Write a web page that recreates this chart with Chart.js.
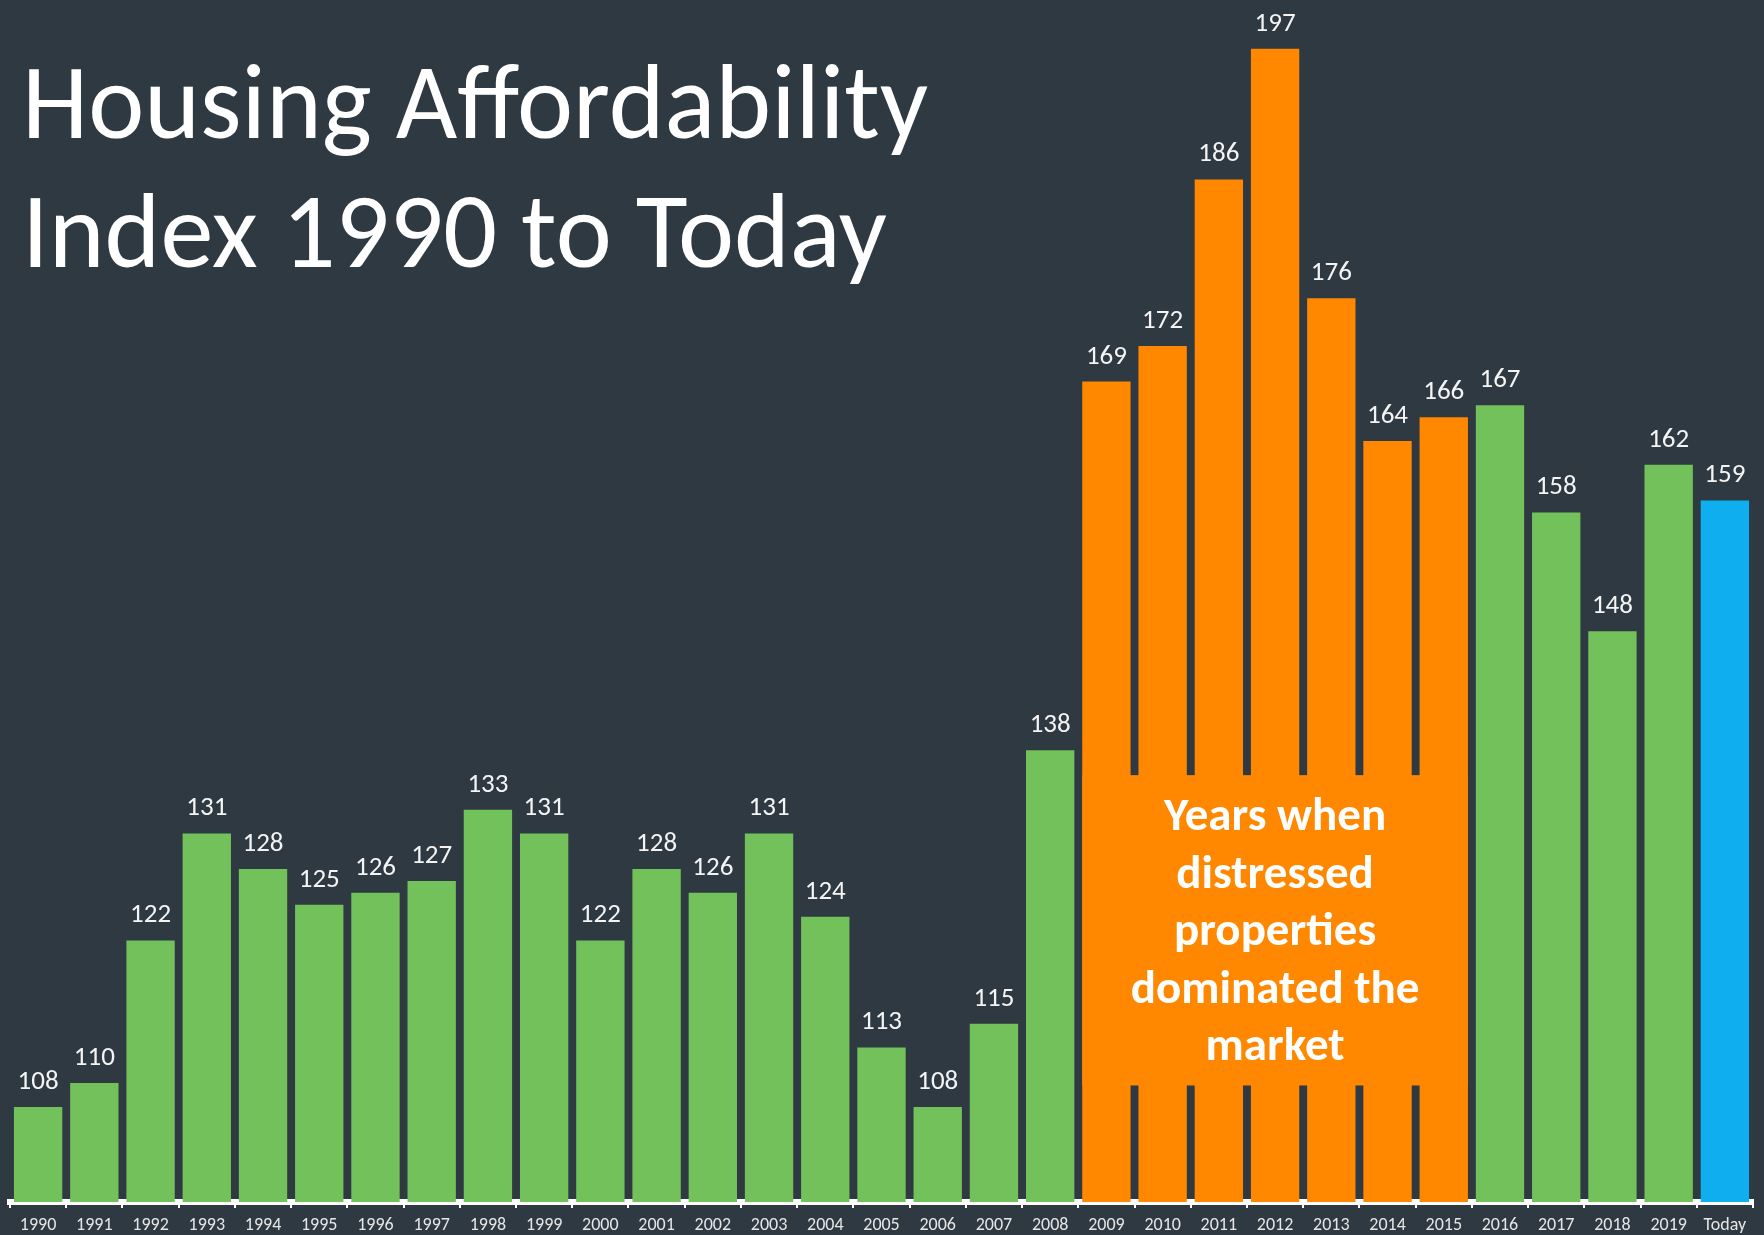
<!DOCTYPE html>
<html>
<head>
<meta charset="utf-8">
<script src="https://cdn.jsdelivr.net/npm/chart.js@4.4.0/dist/chart.umd.min.js"></script>
<style>
  html, body { margin: 0; padding: 0; background: #2e3941; overflow: hidden; }
  #wrap { position: relative; width: 1764px; height: 1235px; }
  .title-line {
    position: absolute;
    left: 22px;
    display: inline-block;
    color: #ffffff;
    font-family: Carlito, "Open Sans", sans-serif;
    font-size: 107px;
    line-height: 126px;
    white-space: nowrap;
    transform-origin: 0 0;
  }
</style>
</head>
<body>
<div id="wrap">
  <canvas id="chart" width="1764" height="1235"></canvas>
  <span class="title-line" id="t1" style="top:39px">Housing Affordability</span>
  <span class="title-line" id="t2" style="top:168px">Index 1990 to Today</span>
</div>
<script>
// --- Data ---
const years = ["1990", "1991", "1992", "1993", "1994", "1995", "1996", "1997",
  "1998", "1999", "2000", "2001", "2002", "2003", "2004", "2005", "2006",
  "2007", "2008", "2009", "2010", "2011", "2012", "2013", "2014", "2015",
  "2016", "2017", "2018", "2019", "Today"];
const affordability = [108, 110, 122, 131, 128, 125, 126, 127, 133, 131, 122,
  128, 126, 131, 124, 113, 108, 115, 138, 169, 172, 186, 197, 176, 164, 166,
  167, 158, 148, 162, 159];
const distressedYears = ["2009", "2010", "2011", "2012", "2013", "2014", "2015"];
const currentLabel = "Today";
const boxLines = ["Years when", "distressed", "properties", "dominated the", "market"];
const boxRange = [109.8, 135.9]; // value range covered by the note box

// --- Colours ---
const GREEN = "#73c15b";
const ORANGE = "#ff8800";
const BLUE = "#0eaeef";
const FONT = 'Carlito, "Open Sans", sans-serif';

const barColors = years.map((y) => {
  if (y === currentLabel) return BLUE;
  if (distressedYears.includes(y)) return ORANGE;
  return GREEN;
});

// value labels above each bar
const valueLabels = {
  id: "valueLabels",
  afterDatasetsDraw(chart) {
    const { ctx } = chart;
    const bars = chart.getDatasetMeta(0).data;
    ctx.save();
    ctx.fillStyle = "#f4f4f4";
    ctx.font = "27px " + FONT;
    ctx.textAlign = "center";
    ctx.textBaseline = "alphabetic";
    bars.forEach((bar, i) => {
      ctx.fillText(String(affordability[i]), bar.x, bar.y - 18);
    });
    ctx.restore();
  },
};

// orange note box over the distressed years
const distressedBox = {
  id: "distressedBox",
  afterDatasetsDraw(chart) {
    const { ctx } = chart;
    const yScale = chart.scales.y;
    const bars = chart.getDatasetMeta(0).data;
    const first = bars[years.indexOf(distressedYears[0])];
    const last = bars[years.indexOf(distressedYears[distressedYears.length - 1])];
    const left = first.x - first.width / 2;
    const right = last.x + last.width / 2;
    const top = yScale.getPixelForValue(boxRange[1]);
    const bottom = yScale.getPixelForValue(boxRange[0]);

    ctx.save();
    ctx.fillStyle = ORANGE;
    ctx.fillRect(left, top, right - left, bottom - top);

    ctx.fillStyle = "#ffffff";
    ctx.font = "bold 47px " + FONT;
    ctx.textAlign = "center";
    ctx.textBaseline = "alphabetic";
    const cx = (left + right) / 2;
    const lineGap = 57.5;
    const firstBase = top + 55;
    boxLines.forEach((line, i) => {
      ctx.fillText(line, cx, firstBase + i * lineGap);
    });
    ctx.restore();
  },
};

const chart = new Chart(document.getElementById("chart"), {
  type: "bar",
  data: {
    labels: years,
    datasets: [
      {
        data: affordability,
        backgroundColor: barColors,
        borderWidth: 0,
        barPercentage: 0.86,
        categoryPercentage: 1.0,
      },
    ],
  },
  options: {
    responsive: false,
    animation: false,
    layout: { padding: { top: 13, left: 10, right: 11, bottom: 0 } },
    plugins: {
      legend: { display: false },
      tooltip: { enabled: false },
    },
    scales: {
      y: { display: false, min: 100, max: 200 },
      x: {
        afterFit(scale) {
          scale.height = 33;
        },
        grid: {
          display: true,
          drawOnChartArea: false,
          color: "#ffffff",
          lineWidth: 2,
          tickLength: 6,
          offset: true,
        },
        border: { color: "#ffffff", width: 6 },
        ticks: {
          color: "#e6e6e6",
          font: { family: FONT, size: 18 },
          padding: 7,
          maxRotation: 0,
          autoSkip: false,
        },
      },
    },
  },
  plugins: [valueLabels, distressedBox],
});

// keep the title within the width of the original
const t1 = document.getElementById("t1");
const t2 = document.getElementById("t2");
const squeeze = 906 / t1.getBoundingClientRect().width;
[t1, t2].forEach((el) => {
  el.style.transform = "scaleX(" + Math.min(1, squeeze) + ")";
});
</script>
</body>
</html>
